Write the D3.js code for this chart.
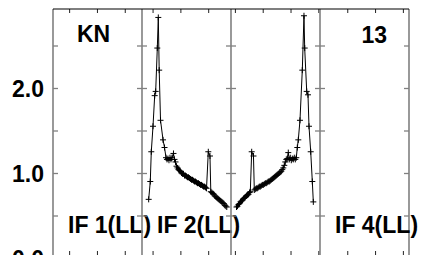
<!DOCTYPE html>
<html><head><meta charset="utf-8">
<script src="https://cdn.jsdelivr.net/npm/d3@7"></script>
<style>
html,body{margin:0;padding:0;background:#fff;}
svg{display:block;}
text{font-family:"Liberation Sans",Arial,Helvetica,sans-serif;font-weight:bold;}
</style></head>
<body>
<script>
// ---- data ----
const antenna = "KN";
const stationNo = "13";
const ifLabels = ["IF 1(LL)", "IF 2(LL)", "", "IF 4(LL)"];
const ifStartMHz = [2.1, 18.1, 34.3, 50.1];   // IF start frequency offsets
const ifWidthMHz = 16;
const yTickValues = [0, 0.5, 1.0, 1.5, 2.0, 2.5];
const yLabelValues = [0.0, 1.0, 2.0];

// IF 2: frequency offset within IF (MHz) and amplitude
const if2Freq = [1.20,1.49,1.67,1.98,2.28,2.46,2.75,2.93,3.09,3.33,3.78,4.05,
  4.32,4.49,4.67,4.85,5.03,5.21,5.39,5.66,5.84,6.02,6.20,
  6.38,6.56,6.74,6.92,7.10,7.28,7.46,7.64,7.82,8.00,8.18,8.36,8.54,8.72,8.90,9.08,9.26,9.44,9.62,9.80,9.98,10.16,10.34,10.52,10.70,10.88,11.06,11.24,11.42,11.60,
  11.92,12.22,
  12.37,12.55,12.73,12.91,13.09,13.27,13.45,13.63,13.81,13.99,14.17,14.35,14.53,14.71,14.89,15.07,15.24];
const if2Amp = [0.69,0.90,1.25,1.55,1.91,1.96,2.47,2.83,2.21,1.62,1.39,1.30,
  1.18,1.16,1.17,1.15,1.18,1.16,1.18,1.23,1.16,1.13,1.08,
  1.06,1.04,1.03,1.02,1.00,0.99,0.99,0.97,0.97,0.96,0.95,0.95,0.94,0.93,0.92,0.92,0.91,0.90,0.90,0.89,0.88,0.88,0.87,0.86,0.86,0.85,0.84,0.84,0.83,0.82,
  1.25,1.20,
  0.78,0.77,0.76,0.75,0.73,0.72,0.71,0.70,0.69,0.68,0.67,0.66,0.65,0.64,0.62,0.61,0.60];

// IF 3
const if3Freq = [0.99,1.17,1.35,1.53,1.71,1.89,2.07,2.25,2.43,2.61,2.79,2.97,3.15,3.33,3.47,
  3.72,4.04,
  4.19,4.37,4.55,4.73,4.91,5.09,5.27,5.45,5.63,5.81,5.99,6.17,6.35,6.53,6.71,6.89,7.07,7.24,7.42,7.60,7.78,7.96,8.14,8.32,8.50,8.68,8.86,9.04,9.22,9.40,9.58,9.76,9.94,
  10.12,10.30,10.48,10.66,10.84,11.02,11.20,11.38,11.56,11.74,
  11.92,12.10,12.40,12.82,13.12,13.25,13.61,13.84,14.02,14.33,14.62,14.80];
const if3Amp = [0.60,0.61,0.63,0.64,0.66,0.67,0.68,0.70,0.71,0.72,0.73,0.74,0.75,0.77,0.78,
  1.25,1.20,
  0.80,0.81,0.82,0.82,0.83,0.84,0.84,0.85,0.86,0.86,0.87,0.88,0.88,0.89,0.90,0.90,0.91,0.92,0.93,0.94,0.95,0.96,0.97,0.98,0.99,1.00,1.01,1.02,1.04,1.06,1.09,1.13,1.16,
  1.17,1.24,1.16,1.18,1.15,1.17,1.16,1.18,1.16,1.18,
  1.30,1.39,1.62,2.21,2.85,2.47,1.96,1.92,1.55,1.25,0.90,0.66];

const series = [null, {f: if2Freq, a: if2Amp}, {f: if3Freq, a: if3Amp}, null];

// ---- layout ----
const W = 421, H = 255;
const pLeft = 53, pTop = 9, pBottom = 258, panelW = 89;
const fs = 23;

const svg = d3.select("body").append("svg").attr("width", W).attr("height", H);

const y = d3.scaleLinear().domain([0, (pBottom - pTop) / 85]).range([pBottom, pTop]);

const gray = "#808080";

for (let i = 0; i < 4; i++) {
  const x0 = pLeft + i * panelW;
  const fx = d3.scaleLinear().domain([ifStartMHz[i], ifStartMHz[i] + ifWidthMHz]).range([x0, x0 + panelW]);
  const g = svg.append("g");

  const yl = g.append("g").attr("transform", `translate(${x0},0)`)
    .call(d3.axisRight(y).tickValues(yTickValues).tickSize(5).tickFormat(""));
  const yr = g.append("g").attr("transform", `translate(${x0 + panelW},0)`)
    .call(d3.axisLeft(y).tickValues(yTickValues).tickSize(5).tickFormat(""));
  [yl, yr].forEach(a => {
    a.select(".domain").remove();
    a.selectAll(".tick line").attr("stroke", gray).attr("stroke-width", 1.3);
  });

  const xt = g.append("g").attr("transform", `translate(0,${pTop})`)
    .call(d3.axisBottom(fx).ticks(3).tickSize(4).tickFormat(""));
  const xb = g.append("g").attr("transform", `translate(0,${pBottom})`)
    .call(d3.axisTop(fx).ticks(3).tickSize(7).tickFormat(""));
  [xt, xb].forEach(a => {
    a.select(".domain").remove();
    a.selectAll(".tick line").attr("stroke", "#222").attr("stroke-width", 1);
  });

  g.append("line").attr("x1", x0).attr("x2", x0).attr("y1", pTop).attr("y2", pBottom)
    .attr("stroke", gray).attr("stroke-width", 1.6);
  if (i === 3) g.append("line").attr("x1", x0 + panelW).attr("x2", x0 + panelW).attr("y1", pTop).attr("y2", pBottom)
    .attr("stroke", gray).attr("stroke-width", 1.6);

  const s = series[i];
  if (s) {
    const pts = s.f.map((f, k) => [fx(ifStartMHz[i] + f), y(s.a[k])]);
    g.append("path").attr("d", d3.line()(pts)).attr("fill", "none")
      .attr("stroke", "#000").attr("stroke-width", 1);
    const m = 3;
    g.append("path").attr("fill", "none").attr("stroke", "#000").attr("stroke-width", 1)
      .attr("d", pts.map(p => `M${p[0]-m},${p[1]}H${p[0]+m}M${p[0]},${p[1]-m}V${p[1]+m}`).join(""));
  }

  if (ifLabels[i]) {
    svg.append("text").attr("x", x0 + 15).attr("y", 233).attr("font-size", fs)
      .attr("fill", "#000").text(ifLabels[i]);
  }
}

svg.append("line").attr("x1", pLeft).attr("x2", pLeft + 4 * panelW).attr("y1", pTop).attr("y2", pTop)
  .attr("stroke", "#000").attr("stroke-width", 1.2);
svg.append("line").attr("x1", pLeft).attr("x2", pLeft + 4 * panelW).attr("y1", pBottom).attr("y2", pBottom)
  .attr("stroke", "#000").attr("stroke-width", 1.2);

svg.selectAll("text.ylab").data(yLabelValues).enter().append("text")
  .attr("class", "ylab").attr("x", 44).attr("y", d => y(d) + 8.5)
  .attr("text-anchor", "end").attr("font-size", fs).attr("fill", "#000")
  .text(d => d.toFixed(1));

svg.append("text").attr("x", pLeft + 24).attr("y", 42).attr("font-size", fs).attr("fill", "#000").text(antenna);
svg.append("text").attr("x", pLeft + 3 * panelW + 67).attr("y", 43).attr("text-anchor", "end")
  .attr("font-size", fs).attr("fill", "#000").text(stationNo);
</script>
</body></html>
